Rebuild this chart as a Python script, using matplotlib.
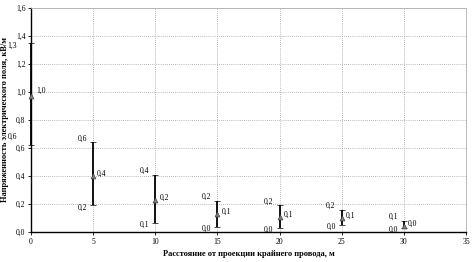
import matplotlib
matplotlib.use('Agg')
import matplotlib.pyplot as plt

plt.rcParams['font.family'] = ['Liberation Serif', 'DejaVu Serif']

# distance from the outer wire projection, m
dist = [0, 5, 10, 15, 20, 25, 30]
mean = [0.97, 0.40, 0.23, 0.13, 0.11, 0.10, 0.045]
upper = [1.35, 0.64, 0.41, 0.22, 0.19, 0.16, 0.08]
lower = [0.62, 0.19, 0.065, 0.036, 0.03, 0.05, 0.03]

mean_lbl = ['1,0', '0,4', '0,2', '0,1', '0,1', '0,1', '0,0']
upper_lbl = ['1,3', '0,6', '0,4', '0,2', '0,2', '0,2', '0,1']
lower_lbl = ['0,6', '0,2', '0,1', '0,0', '0,0', '0,0', '0,0']

fig = plt.figure(figsize=(4.75, 2.62), dpi=100)
ax = fig.add_axes([0.0653, 0.1145, 0.9157, 0.855])

err = [[m - lo for m, lo in zip(mean, lower)], [up - m for m, up in zip(mean, upper)]]
ax.errorbar(dist, mean, yerr=err, fmt='^', color='black', ecolor='black',
            elinewidth=1.3, capsize=2, capthick=1.2, markersize=3.5,
            markerfacecolor='#808080', markeredgecolor='#404040', markeredgewidth=0.5,
            zorder=3, clip_on=False)

fs = 5.5
for i, (x, m, up, lo) in enumerate(zip(dist, mean, upper, lower)):
    # labels of the first bar sit left of the axis, next to the tick labels
    if i == 0:
        up_off, lo_off, m_off = (-14, -3), (-14, 8), (5, 5)
    else:
        up_off, lo_off, m_off = (-6, 4), (-6, -2), (4, 2)
    ax.annotate(mean_lbl[i], (x, m), xytext=m_off, textcoords='offset pixels',
                ha='left', va='center', fontsize=fs, annotation_clip=False)
    ax.annotate(upper_lbl[i], (x, up), xytext=up_off, textcoords='offset pixels',
                ha='right', va='center', fontsize=fs, annotation_clip=False)
    ax.annotate(lower_lbl[i], (x, lo), xytext=lo_off, textcoords='offset pixels',
                ha='right', va='center', fontsize=fs, annotation_clip=False)

ax.set_xlim(0, 35)
ax.set_ylim(0, 1.6)
ax.set_xticks(range(0, 36, 5))
yt = [i * 0.2 for i in range(9)]
ax.set_yticks(yt)
ax.set_yticklabels([f'{v:.1f}'.replace('.', ',') for v in yt])
ax.tick_params(labelsize=fs, length=2, width=0.6, pad=2)

ax.grid(True, linestyle=(0, (1, 1.5)), color='#a0a0a0', linewidth=0.6)
ax.set_axisbelow(True)
for s in ['top', 'right']:
    ax.spines[s].set_color('#b0b0b0')
    ax.spines[s].set_linewidth(0.6)
for s in ['left', 'bottom']:
    ax.spines[s].set_color('black')
    ax.spines[s].set_linewidth(1.0)

ax.set_xlabel('Расстояние от проекции крайнего провода, м', fontsize=6, fontweight='bold', labelpad=3)
ax.set_ylabel('Напряженность электрического поля, кВ/м', fontsize=6, fontweight='bold', labelpad=5)

fig.savefig('out.png', dpi=100)
